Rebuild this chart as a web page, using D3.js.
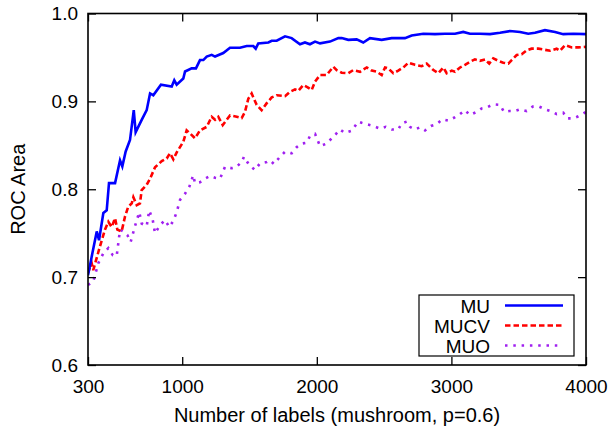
<!DOCTYPE html>
<html>
<head>
<meta charset="utf-8">
<script src="https://cdn.jsdelivr.net/npm/d3@7/dist/d3.min.js"></script>
<style>
  html, body { margin: 0; padding: 0; background: #fff; }
  svg { display: block; }
  text { font-family: "Liberation Sans", Arial, Helvetica, sans-serif; fill: #000; }
</style>
</head>
<body>
<svg id="chart" width="609" height="427"></svg>
<script>
// Number of labels at which each ROC area was measured, per method
const muLabels = [300, 327, 365, 382, 414, 439, 456, 501, 538, 555, 580, 612, 640, 654, 699, 736, 761, 785, 842, 922, 941, 959, 1008, 1021, 1070, 1102, 1132, 1157, 1182, 1219, 1244, 1305, 1355, 1429, 1479, 1528, 1546, 1565, 1640, 1665, 1702, 1764, 1813, 1875, 1912, 1949, 1987, 2024, 2098, 2160, 2185, 2234, 2296, 2345, 2395, 2482, 2556, 2655, 2705, 2791, 2878, 2952, 3027, 3088, 3138, 3212, 3287, 3361, 3435, 3510, 3571, 3621, 3695, 3770, 3831, 3906, 4000];
const muValues = [0.702, 0.723, 0.752, 0.742, 0.773, 0.776, 0.807, 0.807, 0.833, 0.826, 0.843, 0.856, 0.890, 0.865, 0.879, 0.890, 0.909, 0.907, 0.919, 0.917, 0.924, 0.919, 0.926, 0.934, 0.9375, 0.9375, 0.947, 0.947, 0.951, 0.953, 0.951, 0.955, 0.961, 0.961, 0.963, 0.963, 0.960, 0.966, 0.967, 0.969, 0.969, 0.974, 0.972, 0.965, 0.967, 0.965, 0.968, 0.966, 0.968, 0.972, 0.972, 0.970, 0.9706, 0.967, 0.972, 0.970, 0.972, 0.972, 0.975, 0.977, 0.9765, 0.977, 0.977, 0.979, 0.977, 0.977, 0.9765, 0.978, 0.980, 0.979, 0.977, 0.978, 0.981, 0.979, 0.9765, 0.977, 0.9765];

const mucvLabels = [300, 327, 339, 389, 426, 451, 476, 501, 518, 550, 575, 599, 625, 637, 662, 686, 699, 736, 761, 798, 848, 885, 909, 934, 959, 1008, 1033, 1058, 1095, 1132, 1182, 1219, 1244, 1268, 1301, 1355, 1405, 1442, 1466, 1491, 1516, 1553, 1590, 1628, 1665, 1702, 1764, 1801, 1838, 1862, 1900, 1932, 1962, 1987, 2024, 2073, 2123, 2148, 2185, 2234, 2271, 2321, 2371, 2408, 2445, 2482, 2507, 2531, 2568, 2605, 2643, 2680, 2730, 2779, 2816, 2866, 2903, 2940, 2965, 3002, 3027, 3064, 3101, 3138, 3175, 3212, 3250, 3281, 3311, 3348, 3385, 3423, 3448, 3485, 3522, 3559, 3596, 3646, 3683, 3733, 3782, 3807, 3844, 3894, 3943, 4000];
const mucvValues = [0.705, 0.716, 0.708, 0.735, 0.754, 0.763, 0.757, 0.767, 0.754, 0.752, 0.769, 0.780, 0.784, 0.791, 0.782, 0.784, 0.799, 0.805, 0.812, 0.825, 0.832, 0.835, 0.841, 0.834, 0.842, 0.854, 0.867, 0.8635, 0.858, 0.867, 0.871, 0.8825, 0.879, 0.8825, 0.873, 0.884, 0.8825, 0.881, 0.888, 0.903, 0.909, 0.896, 0.890, 0.898, 0.9045, 0.907, 0.906, 0.911, 0.9136, 0.912, 0.9186, 0.916, 0.913, 0.9225, 0.930, 0.930, 0.9394, 0.9356, 0.9326, 0.932, 0.9356, 0.9337, 0.9386, 0.935, 0.9337, 0.930, 0.9386, 0.9375, 0.932, 0.935, 0.9386, 0.944, 0.9416, 0.940, 0.943, 0.9356, 0.932, 0.9386, 0.932, 0.935, 0.9337, 0.9386, 0.9416, 0.945, 0.9478, 0.9462, 0.9478, 0.943, 0.949, 0.9462, 0.944, 0.943, 0.947, 0.9527, 0.9535, 0.958, 0.960, 0.960, 0.959, 0.9576, 0.960, 0.9576, 0.964, 0.9614, 0.9614, 0.962];

const muoLabels = [300, 339, 377, 414, 451, 484, 513, 538, 562, 592, 617, 649, 681, 699, 736, 755, 781, 798, 835, 872, 904, 934, 959, 984, 1021, 1053, 1082, 1095, 1132, 1169, 1206, 1244, 1281, 1318, 1368, 1400, 1442, 1459, 1498, 1541, 1578, 1628, 1652, 1682, 1727, 1764, 1813, 1851, 1888, 1925, 1949, 1987, 2024, 2073, 2111, 2143, 2172, 2209, 2259, 2308, 2333, 2371, 2420, 2469, 2512, 2556, 2605, 2631, 2668, 2692, 2729, 2767, 2804, 2848, 2891, 2932, 2977, 3027, 3064, 3100, 3138, 3188, 3225, 3262, 3311, 3361, 3391, 3430, 3472, 3510, 3559, 3604, 3653, 3695, 3738, 3782, 3831, 3861, 3906, 3943, 3978, 4000];
const muoValues = [0.691, 0.695, 0.716, 0.727, 0.733, 0.725, 0.724, 0.754, 0.752, 0.748, 0.740, 0.758, 0.774, 0.761, 0.758, 0.776, 0.765, 0.750, 0.759, 0.765, 0.757, 0.764, 0.774, 0.788, 0.795, 0.803, 0.816, 0.807, 0.808, 0.812, 0.815, 0.813, 0.812, 0.8256, 0.824, 0.825, 0.831, 0.837, 0.8275, 0.822, 0.8295, 0.831, 0.833, 0.8287, 0.837, 0.8427, 0.841, 0.848, 0.852, 0.853, 0.8605, 0.863, 0.849, 0.852, 0.858, 0.863, 0.868, 0.864, 0.8665, 0.877, 0.8757, 0.874, 0.872, 0.869, 0.871, 0.868, 0.868, 0.875, 0.877, 0.871, 0.868, 0.8705, 0.867, 0.872, 0.874, 0.8795, 0.878, 0.882, 0.8856, 0.890, 0.8845, 0.888, 0.892, 0.893, 0.8966, 0.896, 0.888, 0.889, 0.889, 0.891, 0.889, 0.894, 0.894, 0.891, 0.889, 0.8856, 0.887, 0.8806, 0.8806, 0.883, 0.886, 0.888];

const seriesNames = ["MU", "MUCV", "MUO"];
const xTicks = [300, 1000, 2000, 3000, 4000];
const yTicks = [0.6, 0.7, 0.8, 0.9, 1.0];

const svg = d3.select("#chart");
const plotLeft = 88, plotRight = 586, plotTop = 13.5, plotBottom = 365;

const x = d3.scaleLinear().domain([300, 4000]).range([plotLeft, plotRight]);
const y = d3.scaleLinear().domain([0.6, 1.0]).range([plotBottom, plotTop]);

const series = [
  { name: seriesNames[0], xs: muLabels, ys: muValues, color: "#0000ff", dash: null },
  { name: seriesNames[1], xs: mucvLabels, ys: mucvValues, color: "#ff0000", dash: "5.5 3" },
  { name: seriesNames[2], xs: muoLabels, ys: muoValues, color: "#a020f0", dash: "2.5 5.8" }
];

const line = d3.line().x(d => x(d[0])).y(d => y(d[1]));

// Curves, clipped to the plotting frame
svg.append("clipPath").attr("id", "plotclip")
  .append("rect").attr("x", plotLeft).attr("y", plotTop)
  .attr("width", plotRight - plotLeft).attr("height", plotBottom - plotTop);

const curves = svg.append("g").attr("clip-path", "url(#plotclip)");
series.slice().reverse().forEach(s => {
  curves.append("path")
    .datum(d3.zip(s.xs, s.ys))
    .attr("d", line)
    .attr("fill", "none")
    .attr("stroke", s.color)
    .attr("stroke-width", 2.6)
    .attr("stroke-linejoin", "miter")
    .attr("stroke-dasharray", s.dash);
});

// Axes with inward ticks on all four sides
const tickLen = 8;
const fontSize = 19;
const titleSize = 20;

const axB = svg.append("g").attr("transform", `translate(0,${plotBottom})`)
  .call(d3.axisBottom(x).tickValues(xTicks).tickFormat(d3.format("d")).tickSize(-tickLen).tickPadding(tickLen + 7));
const axT = svg.append("g").attr("transform", `translate(0,${plotTop})`)
  .call(d3.axisTop(x).tickValues(xTicks).tickFormat("").tickSize(-tickLen));
const axL = svg.append("g").attr("transform", `translate(${plotLeft},0)`)
  .call(d3.axisLeft(y).tickValues(yTicks).tickFormat(d3.format(".1f")).tickSize(-tickLen).tickPadding(tickLen + 2));
const axR = svg.append("g").attr("transform", `translate(${plotRight},0)`)
  .call(d3.axisRight(y).tickValues(yTicks).tickFormat("").tickSize(-tickLen));

[axB, axT, axL, axR].forEach(a => {
  a.select(".domain").remove();
  a.selectAll(".tick line").attr("stroke", "#000").attr("stroke-width", 1.3);
  a.selectAll(".tick text")
    .style("font-family", '"Liberation Sans", Arial, sans-serif')
    .style("font-size", fontSize + "px")
    .attr("fill", "#000");
});

// Frame
svg.append("rect")
  .attr("x", plotLeft).attr("y", plotTop)
  .attr("width", plotRight - plotLeft).attr("height", plotBottom - plotTop)
  .attr("fill", "none").attr("stroke", "#000").attr("stroke-width", 1.6);

// Axis titles
svg.append("text")
  .attr("x", (plotLeft + plotRight) / 2).attr("y", 422)
  .attr("text-anchor", "middle")
  .style("font-size", titleSize + "px")
  .text("Number of labels (mushroom, p=0.6)");

svg.append("text")
  .attr("transform", `translate(25,${(plotTop + plotBottom) / 2}) rotate(-90)`)
  .attr("text-anchor", "middle")
  .style("font-size", titleSize + "px")
  .text("ROC Area");

// Legend
const legend = svg.append("g");
legend.append("rect")
  .attr("x", 419).attr("y", 295).attr("width", 155).attr("height", 61)
  .attr("fill", "#fff").attr("stroke", "#000").attr("stroke-width", 1.2);

series.forEach((s, i) => {
  const cy = 305.5 + i * 20;
  legend.append("text")
    .attr("x", 490).attr("y", cy + 7)
    .attr("text-anchor", "end")
    .style("font-size", fontSize + "px")
    .text(s.name);
  legend.append("line")
    .attr("x1", 505).attr("x2", 563).attr("y1", cy).attr("y2", cy)
    .attr("stroke", s.color).attr("stroke-width", 2.6)
    .attr("stroke-dasharray", s.dash);
});
</script>
</body>
</html>
